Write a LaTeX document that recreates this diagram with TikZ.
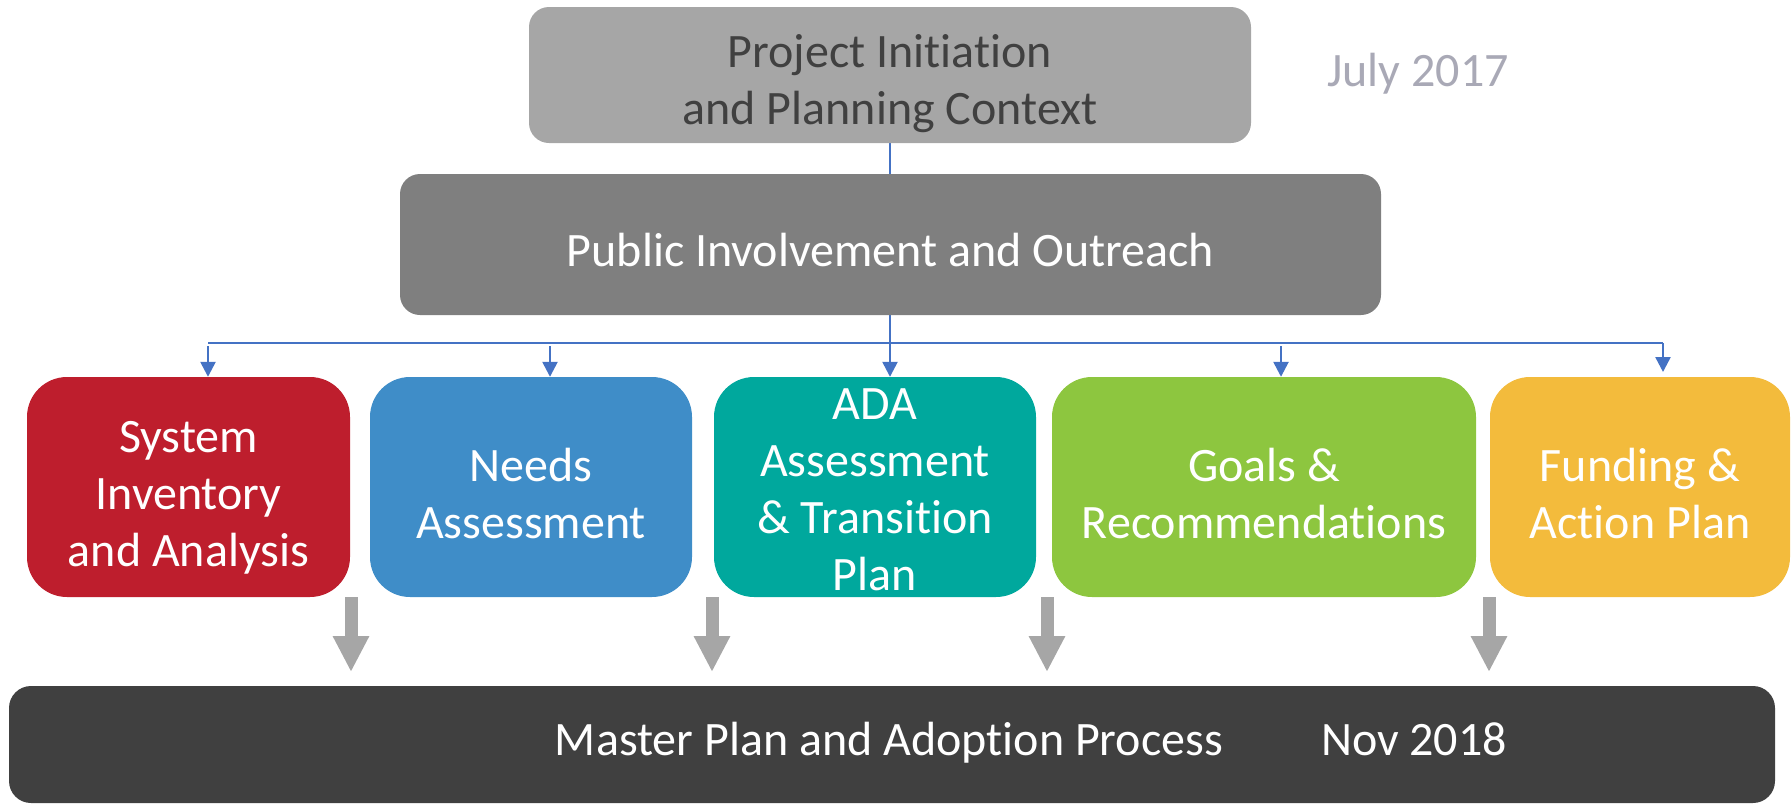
\documentclass[tikz,border=0pt]{standalone}
\usepackage{fontspec}
\setmainfont{Carlito}[Ligatures={NoCommon}]
\usetikzlibrary{arrows.meta,backgrounds}

\definecolor{initgray}{HTML}{A6A6A6}
\definecolor{outgray}{HTML}{7F7F7F}
\definecolor{mastergray}{HTML}{404040}
\definecolor{textdark}{HTML}{404040}
\definecolor{dategray}{HTML}{A9A9B6}
\definecolor{linkblue}{HTML}{4472C4}
\definecolor{droparrow}{HTML}{A6A6A6}
\definecolor{sysred}{HTML}{BE1E2D}
\definecolor{needsblue}{HTML}{3F8DC8}
\definecolor{adateal}{HTML}{00A89D}
\definecolor{goalsgreen}{HTML}{8DC63F}
\definecolor{fundyellow}{HTML}{F3BB3C}

\newcommand{\diagfont}{\fontsize{48}{57}\selectfont}

\tikzset{
  panel/.style={rounded corners=#1, inner sep=0pt},
  phase/.style={panel=40pt, minimum height=220pt},
  caption/.style={font=\diagfont, align=center, inner sep=0pt},
  link/.style={draw=linkblue, line width=2.5pt, -{Triangle[width=15pt,length=15pt]}},
  bus/.style={draw=linkblue, line width=2.5pt},
  drop/.style={draw=droparrow, line width=13pt, -{Triangle[width=34pt,length=36pt]}},
  datelabel/.style={font=\diagfont, inner sep=0pt}
}

\begin{document}
\begin{tikzpicture}[x=1pt,y=-1pt]
\useasboundingbox (0,0) rectangle (1792,804);

% top level
\node[panel=20pt, fill=initgray, minimum width=722pt, minimum height=136pt,
  label={[caption, text=textdark, yshift=-9pt]center:{Project Initiation\\and Planning Context}}]
  (init) at (890,75) {};
\node[datelabel, text=dategray] (start) at (1418,74) {July 2017};

\node[panel=20pt, fill=outgray, minimum width=981pt, minimum height=141pt,
  label={[caption, text=white, yshift=-6pt]center:{Public Involvement and Outreach}}]
  (outreach) at (890.5,244.5) {};

% phases
\node[phase, fill=sysred, minimum width=323pt,
  label={[caption, text=white, yshift=-11pt]center:{System\\Inventory\\and Analysis}}]
  (sys) at (188.5,487) {};
\node[phase, fill=needsblue, minimum width=322pt,
  label={[caption, text=white, yshift=-7pt]center:{Needs\\Assessment}}]
  (needs) at (531,487) {};
\node[phase, fill=adateal, minimum width=322pt,
  label={[caption, text=white, yshift=-3pt]center:{ADA\\Assessment\\\& Transition\\Plan}}]
  (ada) at (875,487) {};
\node[phase, fill=goalsgreen, minimum width=424pt,
  label={[caption, text=white, yshift=-7pt]center:{Goals \&\\Recommendations}}]
  (goals) at (1264,487) {};
\node[phase, fill=fundyellow, minimum width=300pt,
  label={[caption, text=white, yshift=-7pt]center:{Funding \&\\Action Plan}}]
  (fund) at (1640,487) {};

% final stage
\node[panel=22pt, fill=mastergray, minimum width=1766pt, minimum height=117pt,
  label={[caption, text=white, xshift=-3pt, yshift=2pt]center:{Master Plan and Adoption Process}}]
  (master) at (892,744.5) {};
\node[datelabel, text=white] (finish) at (1414,739) {Nov 2018};

% blue distribution lines
\coordinate (busL) at (208,343);
\coordinate (busR) at (1663,343);
\coordinate (fundtip) at (1663,372);
\begin{scope}[on background layer]
  \draw[link] (init.south) -- ([xshift=15pt]ada.north);
\end{scope}
\draw[bus] (busL) -- (busR);
\draw[link] (busR) -- (fundtip);
\draw[link, shorten <=3pt] ([xshift=19.5pt]sys.north |- busL) -- ([xshift=19.5pt]sys.north);
\draw[link, shorten <=3pt] ([xshift=19pt]needs.north |- busL) -- ([xshift=19pt]needs.north);
\draw[link, shorten <=3pt] ([xshift=17pt]goals.north |- busL) -- ([xshift=17pt]goals.north);

% grey arrows into the final stage
\coordinate (d1) at (351,597);
\coordinate (d2) at (712,597);
\coordinate (d3) at (1047,597);
\coordinate (d4) at (1489,597);
\foreach \d in {d1,d2,d3,d4}
  \draw[drop] (\d) -- ++(0,75);
\end{tikzpicture}
\end{document}
